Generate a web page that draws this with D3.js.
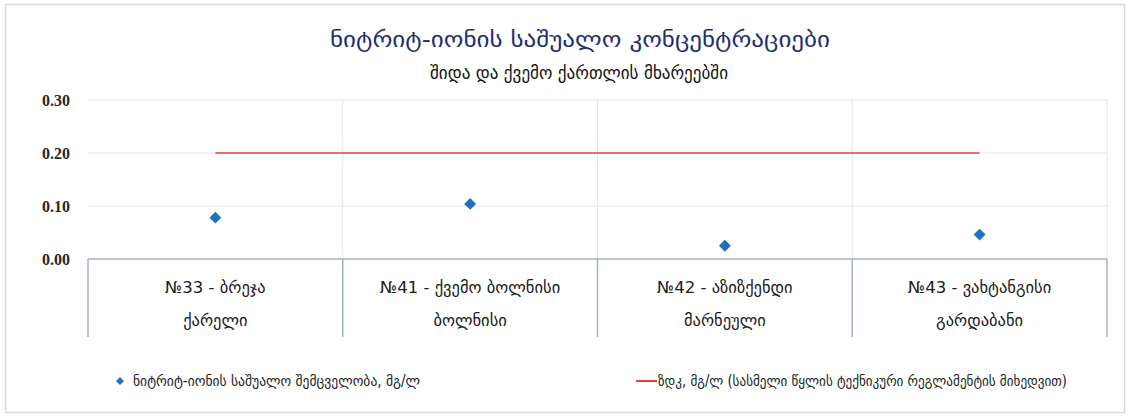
<!DOCTYPE html>
<html><head><meta charset="utf-8">
<script src="https://cdn.jsdelivr.net/npm/d3@7"></script>
<style>
html,body{margin:0;padding:0;background:#fff;}
svg{display:block;}
</style></head>
<body>
<svg id="c" width="1131" height="418"></svg>
<script>
const titleText = "ნიტრიტ-იონის საშუალო კონცენტრაციები";
const subtitleText = "შიდა და ქვემო ქართლის მხარეებში";
const stations = ["№33 - ბრეჯა", "№41 - ქვემო ბოლნისი", "№42 - აზიზქენდი", "№43 - ვახტანგისი"];
const districts = ["ქარელი", "ბოლნისი", "მარნეული", "გარდაბანი"];
const nitriteValues = [0.078, 0.104, 0.025, 0.046];
const limitValues = [0.20, 0.20, 0.20, 0.20];
const yTicks = [0.00, 0.10, 0.20, 0.30];
const legendLabels = ["ნიტრიტ-იონის საშუალო შემცველობა, მგ/ლ", "ზდკ, მგ/ლ (სასმელი წყლის ტექნიკური რეგლამენტის მიხედვით)"];

const geoFont = "'DejaVu Sans',sans-serif";
const svg = d3.select("#c");
svg.append("rect").attr("x",5.5).attr("y",4.5).attr("width",1119).attr("height",408)
  .attr("fill","#fff").attr("stroke","#d9d9d9").attr("stroke-width",1.5);

const L=88, R=1107, T=100, B=259;
const idx = d3.range(stations.length);
const x = d3.scaleBand().domain(idx).range([L,R]).padding(0);
const y = d3.scaleLinear().domain([0,0.30]).range([B,T]);

// horizontal gridlines
svg.append("g").selectAll("line").data(yTicks.filter(d=>d>0)).join("line")
  .attr("x1",L).attr("x2",R).attr("y1",d=>y(d)).attr("y2",d=>y(d))
  .attr("stroke","#e6e6e6").attr("stroke-width",1);
// vertical category gridlines
svg.append("g").selectAll("line").data(idx.slice(1).concat([stations.length])).join("line")
  .attr("x1",d=> d===stations.length? R : x(d)).attr("x2",d=> d===stations.length? R : x(d))
  .attr("y1",T).attr("y2",B).attr("stroke","#e6e6e6");

// y axis labels
const yAxis = d3.axisLeft(y).tickValues(yTicks).tickFormat(d3.format(".2f")).tickSize(0).tickPadding(0);
const ya = svg.append("g").attr("transform",`translate(${L-18},0)`).call(yAxis);
ya.select(".domain").remove();
ya.selectAll("text").attr("font-family","'Liberation Serif','DejaVu Serif',serif").attr("font-weight","bold")
  .attr("font-size",16).attr("fill","#262626");

// category box axis
const boxB = 337;
const axCol = "#a5b1c7";
svg.append("line").attr("x1",L).attr("x2",R).attr("y1",B).attr("y2",B).attr("stroke",axCol).attr("stroke-width",1.5);
svg.append("g").selectAll("line").data(idx.concat([stations.length])).join("line")
  .attr("x1",d=> d===stations.length? R : x(d)).attr("x2",d=> d===stations.length? R : x(d))
  .attr("y1",B).attr("y2",boxB).attr("stroke",axCol).attr("stroke-width",1.5);
const xa = svg.append("g");
xa.selectAll("text.s").data(idx).join("text").attr("class","s")
  .attr("x",d=>x(d)+x.bandwidth()/2).attr("y",293).attr("text-anchor","middle")
  .attr("font-family",geoFont).attr("font-size",16.5).attr("fill","#1a1a1a").text(d=>stations[d]);
xa.selectAll("text.d").data(idx).join("text").attr("class","d")
  .attr("x",d=>x(d)+x.bandwidth()/2).attr("y",326).attr("text-anchor","middle")
  .attr("font-family",geoFont).attr("font-size",16.5).attr("fill","#1a1a1a").text(d=>districts[d]);

// limit line
const line = d3.line().x((d,i)=>x(i)+x.bandwidth()/2).y(d=>y(d));
svg.append("path").datum(limitValues).attr("d",line).attr("fill","none")
  .attr("stroke","#e8413a").attr("stroke-width",1.6);

// diamonds
const diamond = d3.symbol().type(d3.symbolDiamond2).size(90);
svg.append("g").selectAll("path").data(nitriteValues).join("path")
  .attr("d",diamond).attr("transform",(d,i)=>`translate(${x(i)+x.bandwidth()/2},${y(d)})`)
  .attr("fill","#1f6fc5");

// titles
svg.append("text").attr("x",580).attr("y",47).attr("text-anchor","middle")
  .attr("font-family",geoFont).attr("font-size",22.5).attr("fill","#1f2f6e")
  .attr("textLength",500).attr("lengthAdjust","spacingAndGlyphs").text(titleText);
svg.append("text").attr("x",579).attr("y",79).attr("text-anchor","middle")
  .attr("font-family",geoFont).attr("font-size",18.5).attr("fill","#111")
  .attr("textLength",298).attr("lengthAdjust","spacingAndGlyphs").text(subtitleText);

// legend
const lg = svg.append("g");
lg.append("path").attr("d",d3.symbol().type(d3.symbolDiamond2).size(40)).attr("transform","translate(120,381)").attr("fill","#1f6fc5");
lg.append("text").attr("x",133).attr("y",386).attr("font-family",geoFont).attr("font-size",15).attr("fill","#222")
  .attr("textLength",287).attr("lengthAdjust","spacingAndGlyphs").text(legendLabels[0]);
lg.append("line").attr("x1",636).attr("x2",657).attr("y1",381).attr("y2",381).attr("stroke","#e8413a").attr("stroke-width",2);
lg.append("text").attr("x",658).attr("y",386).attr("font-family",geoFont).attr("font-size",15).attr("fill","#222")
  .attr("textLength",409).attr("lengthAdjust","spacingAndGlyphs").text(legendLabels[1]);
</script>
</body></html>
